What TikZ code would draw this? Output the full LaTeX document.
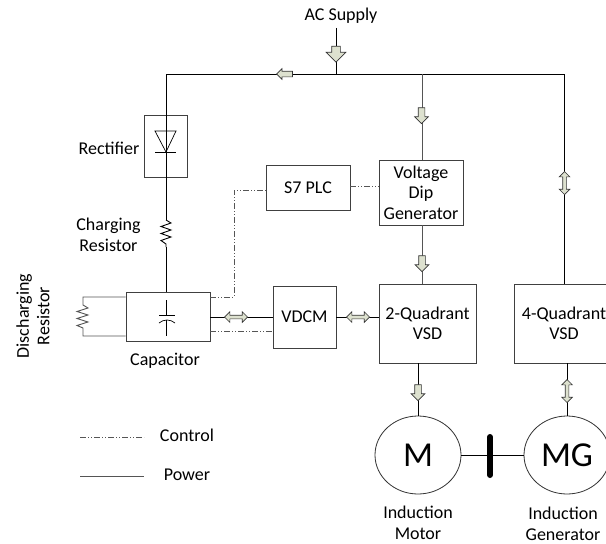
\documentclass[tikz,border=0pt]{standalone}
\usepackage{fontspec}
\setmainfont{Carlito}
\usepackage{xcolor}
\usetikzlibrary{arrows.meta, positioning, calc, shapes.geometric, shapes.arrows}
\definecolor{arrowfill}{HTML}{DDE1CF}
\definecolor{wiregray}{HTML}{555555}
\tikzset{
    lbl/.style={font=\fontsize{18}{20.5}\selectfont, align=center, inner sep=0pt},
    block/.style={draw=black!75, line width=0.9pt, lbl},
    wire/.style={draw=black, line width=0.9pt},
    ctrl/.style={draw=wiregray, line width=0.8pt, dash pattern=on 6pt off 2pt on 1pt off 2pt on 1pt off 2pt},
    machine/.style={draw=black!80, line width=0.8pt, ellipse, minimum width=86pt, minimum height=78pt, inner sep=0pt, font=\fontsize{35}{38}\selectfont},
    flow/.style={single arrow, draw=black!80, fill=arrowfill, line width=0.7pt, inner xsep=0pt, inner ysep=3pt, minimum width=0pt, minimum height=16pt, single arrow head extend=3.5pt, single arrow tip angle=90},
    bigflow/.style={flow, inner ysep=4pt, single arrow head extend=5.5pt},
    bothflow/.style={double arrow, draw=black!80, fill=arrowfill, line width=0.7pt, inner xsep=0pt, inner ysep=1.5pt, minimum width=0pt, minimum height=23pt, double arrow head extend=3.5pt, double arrow tip angle=90}
}
\begin{document}
\begin{tikzpicture}[x=1pt, y=-1pt]
    \useasboundingbox (0,0) rectangle (606,544);
    \clip (0,0) rectangle (606,544);

    % Blocks
    \node[lbl] (supply) at (341,16) {AC Supply};
    \node[block, minimum width=43pt, minimum height=62pt] (rectifier) at (165.5,146) {};
    \node[block, minimum width=84pt, minimum height=45pt] (plc) at (308,187.5) {S7 PLC};
    \node[block, minimum width=84pt, minimum height=65pt] (dip) at (421,192.5) {Voltage\\Dip\\Generator};
    \node[block, minimum width=84pt, minimum height=49pt] (capacitor) at (168,316.5) {};
    \node[block, minimum width=63pt, minimum height=62pt] (vdcm) at (304.5,317) {VDCM};
    \node[block, minimum width=97pt, minimum height=79pt] (quadtwo) at (427.5,323.5) {2-Quadrant\\VSD};
    \node[block, minimum width=100pt, minimum height=79pt] (quadfour) at (564,323.5) {4-Quadrant\\VSD};
    \node[machine] (motor) at (418,455) {M};
    \node[machine] (generator) at (567,455) {MG};

    % Labels
    \node[lbl] at (109,148) {Rectifier};
    \node[lbl] at (108.5,235) {Charging\\Resistor};
    \node[lbl] at (165,361) {Capacitor};
    \node[lbl, rotate=90] at (33,316) {Discharging\\Resistor};
    \node[lbl] at (418,523) {Induction\\Motor};
    \node[lbl] at (563,524) {Induction\\Generator};
    \node[lbl] (ctrltext) at (187,435) {Control};
    \node[lbl] (powertext) at (187,475) {Power};

    % Junctions
    \coordinate (feed) at (336,74);
    \coordinate (corner) at (166,74);
    \coordinate (dipfeed) at (422,74);
    \coordinate (fourfeed) at (564.5,74);
    \coordinate (chargetop) at (166,220);
    \coordinate (chargebot) at (166,247);
    \coordinate (distop) at (83,297);
    \coordinate (disbot) at (83,336);

    % Power wiring
    \draw[wire] (supply.south -| feed) ++(0,4) -- (feed);
    \draw[wire] (corner) -- (fourfeed) -- (fourfeed |- quadfour.north);
    \draw[wire] (corner) -- (chargetop);
    \draw[wire] (chargetop) -- ++(5,3) -- ++(-10,3.5) -- ++(10,3.5) -- ++(-10,3.5) -- ++(10,3.5) -- ++(-10,3.5) -- ++(5,3.5) -- (chargebot);
    \draw[wire] (chargebot) -- (capacitor.north -| chargebot);
    \draw[wire, draw=wiregray] (dipfeed) -- (dip.north -| dipfeed);
    \draw[wire, draw=wiregray] (dip.south -| dipfeed) -- (quadtwo.north -| dipfeed);
    \draw[wire] (quadtwo.south -| motor.north) -- (motor.north);
    \draw[wire] ($(quadfour.south -| generator.north)$) -- (generator.north);
    \draw[wire] (capacitor.east |- vdcm.center) -- (vdcm.west);
    \draw[wire] (vdcm.east) -- (quadtwo.west |- vdcm.east);
    \draw[wire] (motor.east) -- (generator.west);
    \draw[line width=6pt, line cap=round] (490,437) -- (490,475);

    % Discharging resistor
    \draw[wire, draw=wiregray] (capacitor.west |- distop) -- (distop) -- ++(0,8) -- ++(5,3) -- ++(-11,3.5) -- ++(11,3.5) -- ++(-11,3.5) -- ++(11,3.5) -- ++(-11,3.5) -- ++(6,2.5) -- (disbot) -- (capacitor.west |- disbot);

    % Diode and capacitor symbols
    \draw[wire, line width=0.7pt] (155,131) -- (176,131) -- (166,152) -- cycle;
    \draw[wire, line width=0.7pt] (155,152) -- (176,152);
    \draw[wire, line width=0.7pt] (166,300) -- (166,315);
    \draw[wire, line width=0.7pt] (159,315) -- (175,315);
    \draw[wire, line width=0.7pt] (159,323) to[bend left=40] (175,323);
    \draw[wire, line width=0.7pt] (166,320) -- (166,336);

    % Control wiring
    \draw[ctrl] (capacitor.east |- distop) -- (234,297) -- (234,190) -- (plc.west |- 234,190);
    \draw[ctrl] (plc.east |- 0,186) -- (dip.west |- 0,186);
    \draw[ctrl] (capacitor.east |- 0,331) -- (vdcm.west |- 0,331);

    % Flow arrows
    \node[bigflow, rotate=-90] (acflow) at (336,52) {};
    \node[flow, rotate=180, inner ysep=2.5pt, single arrow head extend=2.5pt] (busflow) at (286,74) {};
    \node[flow, rotate=-90] (dipflow) at (421.5,114) {};
    \node[flow, rotate=-90] (quadflow) at (422,262) {};
    \node[flow, rotate=-90] (motorflow) at (418,391) {};
    \node[bothflow, rotate=90] (fourflow) at (564.5,183) {};
    \node[bothflow, rotate=90] (genflow) at (567,391) {};
    \node[bothflow] (capflow) at (236,317) {};
    \node[bothflow] (vdcmflow) at (358,317) {};

    % Legend
    \coordinate (ctrlstart) at (80,437);
    \coordinate (powerstart) at (80,476);
    \draw[ctrl] (ctrlstart) -- (144,437);
    \draw[wire, draw=wiregray] (powerstart) -- (144,476);
\end{tikzpicture}
\end{document}
